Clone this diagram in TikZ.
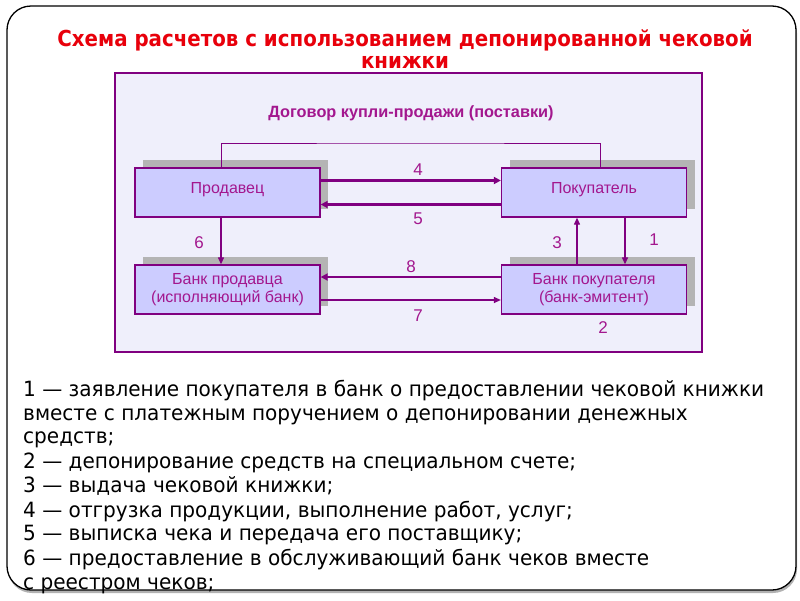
\documentclass[tikz,border=0pt]{standalone}
\usepackage{fontspec}
\setmainfont{Liberation Sans}
\newfontfamily\condfont[FakeStretch=0.955]{DejaVu Sans}
\newfontfamily\condbold[FakeStretch=0.9]{DejaVu Sans Bold}
\usetikzlibrary{arrows.meta,shadows}
\definecolor{panelfill}{HTML}{EFEFFB}
\definecolor{boxfill}{HTML}{CCCCFF}
\definecolor{boxline}{HTML}{800080}
\definecolor{txtcol}{HTML}{A3178E}
\definecolor{shadowgray}{HTML}{B4B4B4}
\definecolor{titlered}{HTML}{E8000B}
\tikzset{
  x=1pt,y=-1pt,
  boxnode/.style={draw=boxline,line width=1.3pt,fill=boxfill,minimum width=185pt,minimum height=49pt,
    inner sep=0pt,font=\fontsize{16}{18.5}\selectfont,text=txtcol,align=center,
    general shadow={shadow xshift=8pt,shadow yshift=8pt,fill=shadowgray,draw=none}},
  thickarr/.style={draw=boxline,line width=2.4pt,-{Triangle[length=7pt,width=7pt]}},
  thinarr/.style={draw=boxline,line width=1.2pt,-{Triangle[length=7pt,width=6pt]}},
  numlbl/.style={text=txtcol,font=\fontsize{17}{19}\selectfont},
  legend/.style={anchor=mid west,inner sep=0pt,font=\condfont\fontsize{21}{23}\selectfont}
}
\begin{document}
\begin{tikzpicture}
\useasboundingbox (0,0) rectangle (800,600);
\fill[white] (0,0) rectangle (800,600);
% outer frame
\draw[black,line width=1.3pt,rounded corners=24pt,fill=white,
  general shadow={shadow xshift=1pt,shadow yshift=-3pt,fill=gray!60,draw=none}]
  (7,6) rectangle (796,590);
% title
\node[text=titlered,font=\condbold\fontsize{22}{24}\selectfont] (title1) at (405,40) {Схема расчетов с использованием депонированной чековой};
\node[text=titlered,font=\condbold\fontsize{22}{24}\selectfont] (title2) at (405,62) {книжки};
% panel
\draw[boxline,line width=1.3pt,fill=panelfill] (115,73) rectangle (702,352);
\node[text=txtcol,font=\bfseries\fontsize{16.3}{18}\selectfont] (contract) at (411,113) {Договор купли-продажи (поставки)};
% boxes
\node[boxnode] (prod) at (227.5,192.5) {\raisebox{9pt}{Продавец}};
\node[boxnode] (pok) at (594,192.5) {\raisebox{9pt}{Покупатель}};
\node[boxnode] (bprod) at (227.5,289.5) {Банк продавца\\(исполняющий банк)};
\node[boxnode] (bpok) at (594,289.5) {Банк покупателя\\(банк-эмитент)};
% top connector
\coordinate (topc) at (410,143);
\draw[boxline,line width=1pt] ([xshift=-6.5pt]prod.north) |- (topc) -| ([xshift=6pt]pok.north);
% arrows
\draw[thickarr] ([yshift=12pt]prod.east) -- ([yshift=12pt]pok.west);
\draw[thickarr] ([yshift=-12pt]pok.west) -- ([yshift=-12pt]prod.east);
\draw[thinarr] ([xshift=-6.5pt]prod.south) -- ([xshift=-6.5pt]bprod.north);
\draw[thinarr] ([xshift=-17pt]bpok.north) -- ([xshift=-17pt]pok.south);
\draw[thinarr] ([xshift=31pt]pok.south) -- ([xshift=31pt]bpok.north);
\draw[thickarr] ([yshift=12.5pt]bpok.west) -- ([yshift=12.5pt]bprod.east);
\draw[thinarr] ([yshift=-10.5pt]bprod.east) -- ([yshift=-10.5pt]bpok.west);
% number labels
\node[numlbl] (n4) at (418,170) {4};
\node[numlbl] (n5) at (418,219) {5};
\node[numlbl] (n6) at (199,243) {6};
\node[numlbl] (n3) at (557,243) {3};
\node[numlbl] (n1) at (654,240) {1};
\node[numlbl] (n8) at (411,267) {8};
\node[numlbl] (n7) at (418,316) {7};
\node[numlbl] (n2) at (603,328) {2};
% legend
\node[legend] (l1) at (23,394) {1 — заявление покупателя в банк о предоставлении чековой книжки};
\node[legend] (l2) at (23,418) {вместе с платежным поручением о депонировании денежных};
\node[legend] (l3) at (23,441) {средств;};
\node[legend] (l4) at (23,466) {2 — депонирование средств на специальном счете;};
\node[legend] (l5) at (23,490) {3 — выдача чековой книжки;};
\node[legend] (l6) at (23,515) {4 — отгрузка продукции, выполнение работ, услуг;};
\node[legend] (l7) at (23,538) {5 — выписка чека и передача его поставщику;};
\node[legend] (l8) at (23,563) {6 — предоставление в обслуживающий банк чеков вместе};
\node[legend] (l9) at (23,587) {с реестром чеков;};
\end{tikzpicture}
\end{document}
